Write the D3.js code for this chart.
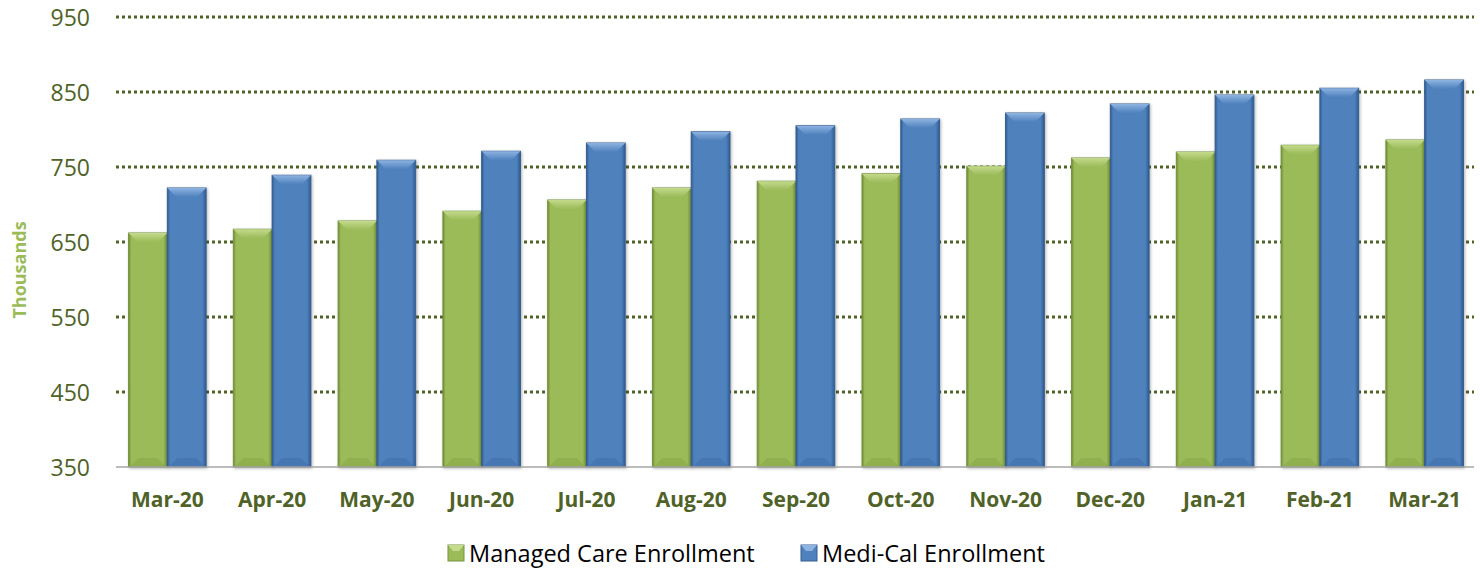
<!DOCTYPE html>
<html>
<head>
<meta charset="utf-8">
<script src="https://cdn.jsdelivr.net/npm/d3@7"></script>
<style>
  body { margin: 0; background: #fff; }
  svg { display: block; }
</style>
</head>
<body>
<div id="chart"></div>
<script>
// data (thousands)
var months = ["Mar-20", "Apr-20", "May-20", "Jun-20", "Jul-20", "Aug-20", "Sep-20",
              "Oct-20", "Nov-20", "Dec-20", "Jan-21", "Feb-21", "Mar-21"];
var managedCare = [662, 667, 678, 691, 706, 722, 731, 741, 751, 762, 770, 779, 786];
var mediCal     = [722, 739, 759, 771, 782, 797, 805, 814, 822, 834, 846, 855, 866];
var yTicks = [350, 450, 550, 650, 750, 850, 950];
var seriesNames = ["Managed Care Enrollment", "Medi-Cal Enrollment"];

var W = 1480, H = 568;
var margin = {top: 17, right: 4, bottom: 101, left: 116};
var width = W - margin.left - margin.right,
    height = H - margin.top - margin.bottom;

var textColor = "#4F6228";
var font = "'Open Sans', 'Noto Sans', sans-serif";

var colors = [
  {base: "#9BBB59", light: "#C4DA8C", dark: "#6E8A35", edge: "#76923C"},
  {base: "#4F81BD", light: "#8DB3E2", dark: "#2D5B92", edge: "#385D8A"}
];

var svg = d3.select("#chart").append("svg")
  .attr("width", W)
  .attr("height", H);

var defs = svg.append("defs");
colors.forEach(function (c, i) {
  var g = defs.append("linearGradient")
    .attr("id", "body" + i)
    .attr("x1", "0").attr("x2", "1").attr("y1", "0").attr("y2", "0");
  g.append("stop").attr("offset", "0").attr("stop-color", c.dark);
  g.append("stop").attr("offset", "0.07").attr("stop-color", c.base);
  g.append("stop").attr("offset", "0.9").attr("stop-color", c.base);
  g.append("stop").attr("offset", "1").attr("stop-color", c.dark);
  var t = defs.append("linearGradient")
    .attr("id", "top" + i)
    .attr("x1", "0").attr("x2", "0").attr("y1", "0").attr("y2", "1");
  t.append("stop").attr("offset", "0").attr("stop-color", c.light);
  t.append("stop").attr("offset", "1").attr("stop-color", c.base);
});

var shadow = defs.append("filter").attr("id", "shadow")
  .attr("x", "-20%").attr("y", "-5%").attr("width", "140%").attr("height", "110%");
shadow.append("feDropShadow")
  .attr("dx", 1).attr("dy", 1).attr("stdDeviation", 1.5)
  .attr("flood-color", "#000").attr("flood-opacity", 0.3);

var g = svg.append("g")
  .attr("transform", "translate(" + margin.left + "," + margin.top + ")");

// scales
var x0 = d3.scaleBand()
  .domain(months)
  .range([0, width])
  .paddingInner(0.26)
  .paddingOuter(0.12);

var x1 = d3.scaleBand()
  .domain([0, 1])
  .range([0, x0.bandwidth()]);

var y = d3.scaleLinear()
  .domain([350, 950])
  .range([height, 0]);

// grid lines
g.selectAll(".grid")
  .data(yTicks.filter(function (d) { return d > 350; }))
  .enter().append("line")
  .attr("class", "grid")
  .attr("x1", 0)
  .attr("x2", width - 2)
  .attr("y1", function (d) { return y(d); })
  .attr("y2", function (d) { return y(d); })
  .attr("stroke", textColor)
  .attr("stroke-width", 3)
  .attr("stroke-dasharray", "3,3");

// y axis labels
var yAxis = d3.axisLeft(y).tickValues(yTicks).tickSize(0).tickPadding(26);
g.append("g").call(yAxis)
  .call(function (s) { s.select(".domain").remove(); })
  .selectAll("text")
  .attr("font-family", font)
  .attr("font-size", "23px")
  .attr("fill", textColor)
  .attr("dy", "0.36em");

// y title
svg.append("text")
  .attr("transform", "translate(26,270) rotate(-90)")
  .attr("text-anchor", "middle")
  .attr("font-family", font)
  .attr("font-weight", "bold")
  .attr("font-size", "18px")
  .attr("fill", "#9BBB59")
  .text("Thousands");

// bars
var rows = months.map(function (m, i) {
  return {month: m, values: [managedCare[i], mediCal[i]]};
});

var groups = g.selectAll(".month")
  .data(rows)
  .enter().append("g")
  .attr("class", "month")
  .attr("transform", function (d) { return "translate(" + x0(d.month) + ",0)"; });

var bars = groups.selectAll(".bar")
  .data(function (d) { return d.values.map(function (v, k) { return {k: k, v: v}; }); })
  .enter().append("g")
  .attr("class", "bar")
  .attr("filter", "url(#shadow)");

bars.append("rect")
  .attr("x", function (d) { return x1(d.k); })
  .attr("width", x1.bandwidth())
  .attr("y", function (d) { return y(d.v); })
  .attr("height", function (d) { return height - y(d.v); })
  .attr("fill", function (d) { return "url(#body" + d.k + ")"; })
  .attr("stroke", function (d) { return colors[d.k].edge; })
  .attr("stroke-width", 1);

// top bevel
var bev = 9;
bars.append("path")
  .attr("d", function (d) {
    var xa = x1(d.k), xb = xa + x1.bandwidth(), yt = y(d.v);
    return "M" + xa + "," + yt + "L" + xb + "," + yt +
      "L" + (xb - bev) + "," + (yt + bev) + "L" + (xa + bev) + "," + (yt + bev) + "Z";
  })
  .attr("fill", function (d) { return "url(#top" + d.k + ")"; });

// bottom bevel (subtle)
bars.append("path")
  .attr("d", function (d) {
    var xa = x1(d.k) + 1, xb = xa + x1.bandwidth() - 2, yb = height;
    return "M" + xa + "," + yb + "L" + xb + "," + yb +
      "L" + (xb - bev) + "," + (yb - bev) + "L" + (xa + bev) + "," + (yb - bev) + "Z";
  })
  .attr("fill", function (d) { return colors[d.k].dark; })
  .attr("opacity", 0.25);

// baseline
g.append("line")
  .attr("x1", 0).attr("x2", width - 2)
  .attr("y1", height).attr("y2", height)
  .attr("stroke", "#A6A6A6")
  .attr("stroke-width", 1.5);

// x axis labels
var xAxis = d3.axisBottom(x0).tickSize(0).tickPadding(40);
g.append("g")
  .attr("transform", "translate(0," + height + ")")
  .call(xAxis)
  .call(function (s) { s.select(".domain").remove(); })
  .selectAll("text")
  .attr("font-family", font)
  .attr("font-weight", "bold")
  .attr("font-size", "21px")
  .attr("fill", textColor)
  .attr("dy", "0");

// legend
var legendX = [448, 801];
var legend = svg.selectAll(".legend")
  .data(seriesNames)
  .enter().append("g")
  .attr("class", "legend")
  .attr("transform", function (d, i) { return "translate(" + legendX[i] + ",545)"; });

legend.append("rect")
  .attr("width", 16).attr("height", 16)
  .attr("fill", function (d, i) { return colors[i].base; })
  .attr("stroke", function (d, i) { return colors[i].edge; });

legend.append("path")
  .attr("d", "M0,0L16,0L11,6L5,6Z")
  .attr("fill", function (d, i) { return colors[i].light; });

legend.append("text")
  .attr("x", 21)
  .attr("y", 16.5)
  .attr("font-family", font)
  .attr("font-size", "23.5px")
  .attr("fill", "#000")
  .text(function (d) { return d; });
</script>
</body>
</html>
